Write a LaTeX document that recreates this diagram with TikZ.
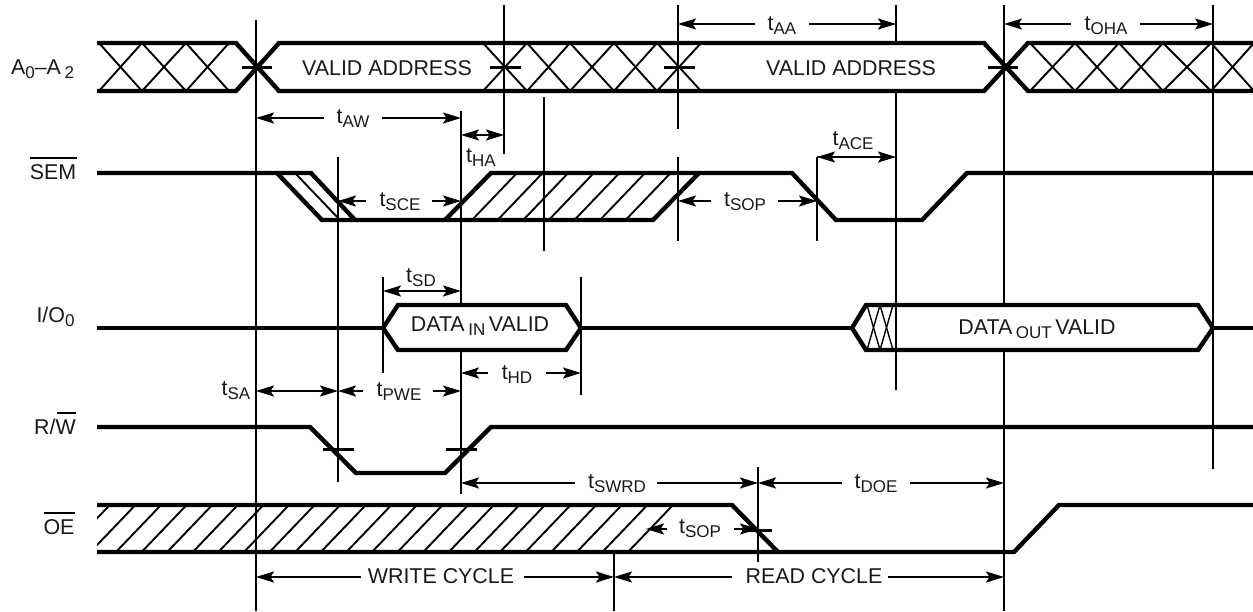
\documentclass[tikz,border=0pt]{standalone}
\usepackage{fontspec}
\setmainfont{Liberation Sans}
\usetikzlibrary{arrows.meta}
\newcommand{\subt}[1]{\raisebox{-4.8pt}{\fontsize{17}{18}\selectfont #1}}
\newcommand{\tim}[1]{t\subt{#1}}
\tikzset{
  sig/.style={line width=4.4pt,line cap=butt,line join=miter},
  thin line/.style={line width=2pt},
  hatch/.style={line width=1.9pt},
  tick mark/.style={line width=3pt},
  lab/.style={anchor=base,inner sep=0pt,outer sep=0pt,font=\fontsize{21.4}{24}\selectfont,text=black!90},
  tipL/.style={{Stealth[length=18pt,width=11pt,inset=3.5pt]}-},
  tipR/.style={-{Stealth[length=18pt,width=11pt,inset=3.5pt]}},
  tipB/.style={{Stealth[length=18pt,width=11pt,inset=3.5pt]}-{Stealth[length=18pt,width=11pt,inset=3.5pt]}},
  dim/.style={line width=1.9pt}
}
\begin{document}
\begin{tikzpicture}[x=1pt,y=-1pt]
\useasboundingbox (0,0) rectangle (1253,611);
% verticals
\foreach \x/\a/\b in {256/20/611,338/157/482,461/111/305,461/350/494,504/5/154,544/97/251,678/5/129,678/157/241,817/157/241,896/5/43,896/91/390,1004/5/305,1004/350/611,1213/5/469,383/277/373,581/277/395,758/467/562,614/552/611}
  \draw[thin line] (\x,\a) -- (\x,\b);
% address bus
\draw[sig] (97,43) -- (236,43) -- (279,91) -- (984,91) -- (1028,43) -- (1253,43);
\draw[sig] (97,91) -- (236,91) -- (279,43) -- (984,43) -- (1028,91) -- (1253,91);
\foreach \p/\q in {99/142,142/186,186/229,483/527,527/570,570/614,614/657,657/701,1030/1075,1075/1119,1119/1163,1163/1211,1211/1254}{
  \draw[hatch] (\p,43) -- (\q,91);
  \draw[hatch] (\p,91) -- (\q,43);
}
\foreach \a/\b in {242/272,490/521,664/695,988/1018}
  \draw[tick mark] (\a,67) -- (\b,67);
% SEM
\draw[sig] (97,173) -- (311,173) -- (355,220);
\draw[sig] (277,173) -- (322,220) -- (653,220) -- (699,173);
\draw[sig] (445,220) -- (491,173) -- (792,173) -- (836,220) -- (922,220) -- (967,173) -- (1253,173);
\draw[hatch] (295,173) -- (340,220);
\foreach \p in {472,497.6,523.2,548.8,574.4,600,625.6}
  \draw[hatch] (\p,220) -- ({\p+45},173);
% I/O
\draw[sig] (97,328) -- (383,328);
\draw[sig] (383,328) -- (398,305) -- (566,305) -- (581,328) -- (566,350) -- (398,350) -- cycle;
\draw[sig] (581,328) -- (852,328);
\draw[sig] (852,328) -- (866,305) -- (1198,305) -- (1213,328) -- (1198,350) -- (866,350) -- cycle;
\draw[sig] (1213,328) -- (1253,328);
\foreach \p/\q in {867/880,880/893}{
  \draw[line width=1.4pt] (\p,305) -- (\q,350);
  \draw[line width=1.4pt] (\p,350) -- (\q,305);
}
% R/W
\draw[sig] (97,427) -- (310,427) -- (356,473) -- (445,473) -- (491,427) -- (1253,427);
\foreach \a/\b in {323/354,446/477}
  \draw[tick mark] (\a,449) -- (\b,449);
% OE
\begin{scope}
\clip (97,505) rectangle (1253,552);
\foreach \k in {-2,...,20}
  \draw[hatch] ({116+25.6*\k},552) -- ({161+25.6*\k},505);
\end{scope}
\draw[sig] (97,505) -- (732,505) -- (778,552);
\draw[sig] (97,552) -- (1014,552) -- (1059,505) -- (1253,505);
\draw[tick mark] (742,530) -- (772,530);
% dimension arrows
\foreach \y/\a/\b/\c/\d in {118/256/324/382/461,201/338/366/432/461,201/678/711/778/817,24/678/755/809/896,24/1004/1071/1140/1213,373/461/488/546/581,391/338/363/433/461,483/461/575/657/758,483/758/842/910/1004,529/646/667/734/758,577/256/361/524/614,577/614/732/888/1004}{
  \draw[dim,tipL] (\a,\y) -- (\b,\y);
  \draw[dim,tipR] (\c,\y) -- (\d,\y);
}
\foreach \y/\a/\b in {135/461/504,291/383/461,391/256/338}
  \draw[dim,tipB] (\a,\y) -- (\b,\y);
\draw[dim,tipR] (817,157) -- (896,157);
\draw[dim,tipL] (817,157) -- (840,157);
% labels
\node[lab] (va1) at (387,75) {VALID ADDRESS};
\node[lab] (va2) at (851,75) {VALID ADDRESS};
\node[lab] (din) at (480,331) {DATA\,\subt{IN}\,VALID};
\node[lab] (dout) at (1037,334) {DATA\,\subt{OUT}\,VALID};
\node[lab] (taw) at (353,123) {\tim{AW}};
\node[lab] (tha) at (481,162) {\tim{HA}};
\node[lab] (tsce) at (400,206) {\tim{SCE}};
\node[lab] (tsop) at (745,206) {\tim{SOP}};
\node[lab] (taa) at (782,30) {\tim{AA}};
\node[lab] (toha) at (1106,30) {\tim{OHA}};
\node[lab] (tace) at (853,145) {\tim{ACE}};
\node[lab] (tsd) at (421,282) {\tim{SD}};
\node[lab] (thd) at (517,379) {\tim{HD}};
\node[lab] (tsa) at (236,395) {\tim{SA}};
\node[lab] (tpwe) at (399,396) {\tim{PWE}};
\node[lab] (tswrd) at (617,488) {\tim{SWRD}};
\node[lab] (tdoe) at (876,488) {\tim{DOE}};
\node[lab] (tsopb) at (700,533) {\tim{SOP}};
\node[lab] (wc) at (441,583) {WRITE CYCLE};
\node[lab] (rc) at (814,583) {READ CYCLE};
\node[lab] (la) at (42.5,74) {A\subt{0}–A\,\subt{2}};
\node[lab] (ls) at (53,179) {SEM};
\node[lab] (lio) at (55.5,322) {I/O\subt{0}};
\node[lab] (lr) at (55,434) {R/W};
\node[lab] (lo) at (59,534) {OE};
\draw[line width=1.5pt] (30,158) -- (77,158);
\draw[line width=1.5pt] (44,513) -- (75,513);
\draw[line width=1.5pt] (57,413) -- (76,413);
\end{tikzpicture}
\end{document}
